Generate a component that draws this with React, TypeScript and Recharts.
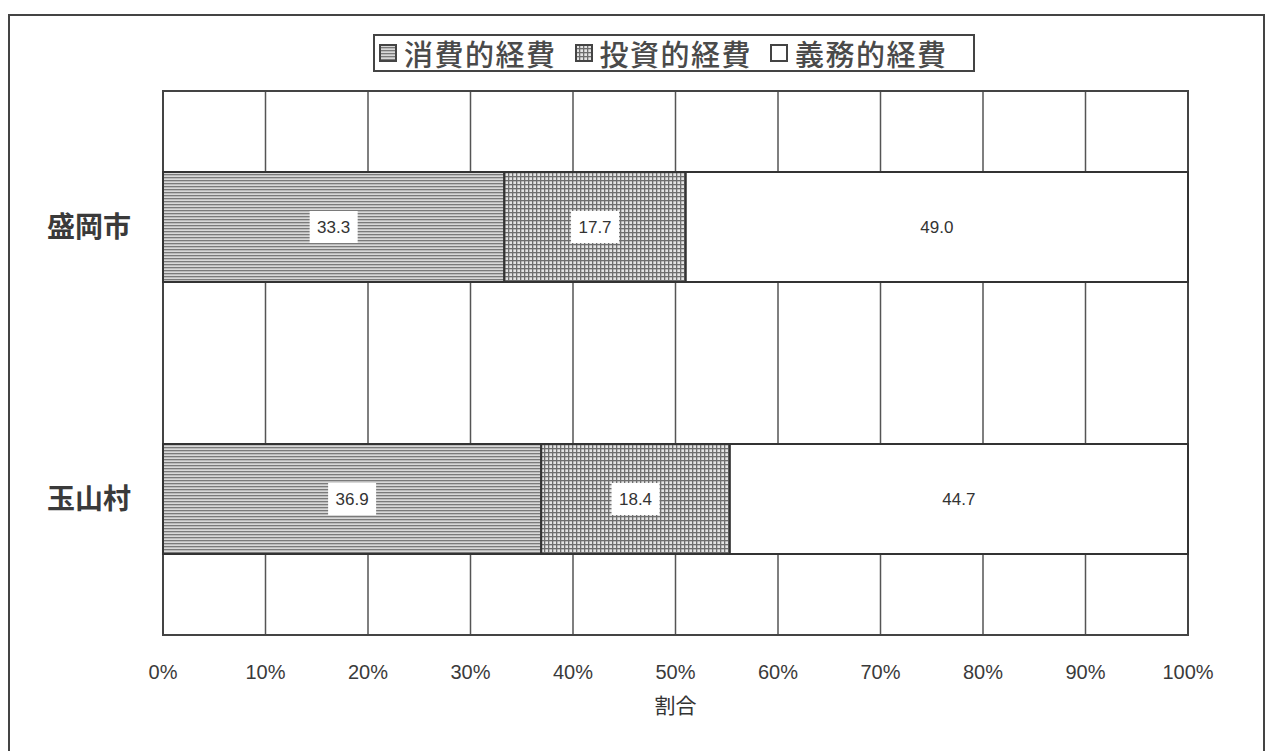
import React from "react";
import {
  BarChart,
  Bar,
  XAxis,
  YAxis,
  CartesianGrid,
  LabelList,
  ReferenceArea,
} from "recharts";

const categories = ["盛岡市", "玉山村"];
const consumption = [33.3, 36.9];
const investment = [17.7, 18.4];
const obligatory = [49.0, 44.7];
const seriesNames = ["消費的経費", "投資的経費", "義務的経費"];
const xTicks = [0, 10, 20, 30, 40, 50, 60, 70, 80, 90, 100];

const data = categories.map((name, i) => ({
  name,
  a: consumption[i],
  b: investment[i],
  c: obligatory[i],
}));

const fills = ["url(#patStripe)", "url(#patGrid)", "#ffffff"];
const keys = ["a", "b", "c"];

const jp = '"Noto Sans CJK JP", "Noto Sans", sans-serif';
const latin = '"Liberation Sans", Arial, sans-serif';

const ValueLabel = (props: any) => {
  const { x, y, width, height, value, fillBox } = props;
  const cx = x + width / 2;
  const cy = y + height / 2;
  const text = Number(value).toFixed(1);
  return (
    <g>
      {fillBox && <rect x={cx - 24} y={cy - 16} width={48} height={32} fill="#fff" />}
      <text
        x={cx}
        y={cy}
        textAnchor="middle"
        dominantBaseline="central"
        fontFamily={latin}
        fontSize={17}
        fill="#333"
      >
        {text}
      </text>
    </g>
  );
};

// legend drawn as a plain box above the plot
const LegendBox = () => (
  <div
    style={{
      position: "absolute",
      left: 373,
      top: 34,
      width: 602,
      height: 38,
      boxSizing: "border-box",
      display: "flex",
      alignItems: "center",
      border: "2px solid #444",
      paddingLeft: 4,
      fontFamily: jp,
      fontSize: 29,
      fontWeight: 500,
      letterSpacing: 1.5,
      color: "#4a4a4a",
      background: "#fff",
      whiteSpace: "nowrap",
    }}
  >
    {seriesNames.map((n, i) => (
      <span key={n} style={{ display: "inline-flex", alignItems: "center", marginRight: i < 2 ? 18 : 0 }}>
        <svg width={18} height={18} style={{ marginRight: 7 }}>
          <rect x={1} y={1} width={16} height={16} fill={fills[i]} stroke="#444" strokeWidth={2} />
        </svg>
        {n}
      </span>
    ))}
  </div>
);

export default function App() {
  return (
    <div
      style={{
        position: "absolute",
        left: 0,
        top: 0,
        width: 1273,
        height: 751,
        overflow: "hidden",
        background: "#fff",
      }}
    >
      <div
        style={{
          position: "absolute",
          left: 8,
          top: 14,
          width: 1257,
          height: 800,
          border: "2px solid #444",
          boxSizing: "border-box",
        }}
      />
      <div style={{ position: "absolute", left: 0, top: 0 }}>
        <BarChart
          width={1273}
          height={751}
          data={data}
          layout="vertical"
          barSize={110}
          margin={{ top: 91, right: 85, bottom: 0, left: 0 }}
        >
          <defs>
            <pattern id="patStripe" width={4} height={3} patternUnits="userSpaceOnUse">
              <rect width={4} height={3} fill="#d8d8d8" />
              <rect width={4} height={1.3} fill="#7a7a7a" />
            </pattern>
            <pattern id="patGrid" width={4} height={4} patternUnits="userSpaceOnUse">
              <rect width={4} height={4} fill="#e4e4e4" />
              <rect width={4} height={1.3} fill="#6e6e6e" />
              <rect width={1.3} height={4} fill="#6e6e6e" />
            </pattern>
          </defs>
          <CartesianGrid horizontal={false} vertical stroke="#555" strokeWidth={1.5} />
          <XAxis
            type="number"
            domain={[0, 100]}
            ticks={xTicks}
            tickFormatter={(v) => `${v}%`}
            axisLine={false}
            tickLine={false}
            tickSize={0}
            tickMargin={30}
            height={116}
            interval={0}
            tick={{ fontFamily: latin, fontSize: 20, fill: "#3a3a3a" }}
            label={{
              value: "割合",
              position: "insideBottom",
              offset: 38,
              style: { fontFamily: jp, fontSize: 21, fill: "#333" },
            }}
          />
          <YAxis
            type="category"
            dataKey="name"
            width={163}
            axisLine={false}
            tickLine={false}
            tickSize={0}
            tickMargin={32}
            tick={{ fontFamily: jp, fontSize: 28, fontWeight: 700, fill: "#3a3a3a" }}
          />
          {keys.map((k, i) => (
            <Bar
              key={k}
              dataKey={k}
              name={seriesNames[i]}
              stackId="s"
              fill={fills[i]}
              stroke="#333"
              strokeWidth={2}
              isAnimationActive={false}
            >
              <LabelList
                dataKey={k}
                content={(p: any) => <ValueLabel {...p} fillBox={i < 2} />}
              />
            </Bar>
          ))}
          <ReferenceArea x1={0} x2={100} fill="none" stroke="#444" strokeWidth={2} ifOverflow="visible" />
        </BarChart>
      </div>
      <LegendBox />
    </div>
  );
}
